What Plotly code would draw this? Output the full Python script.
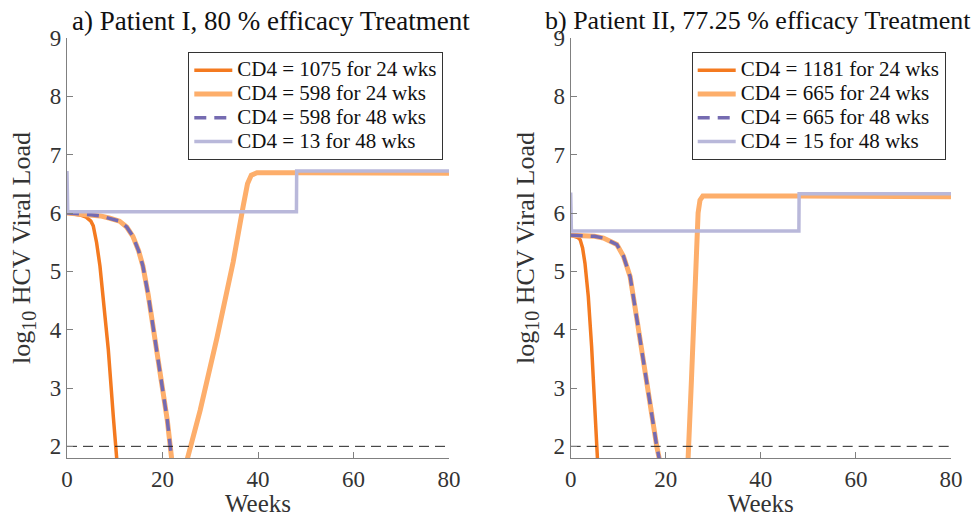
import plotly.graph_objects as go

# ---------------- data ----------------
# Patient I
p1_dark_t = [0, 1, 2, 3, 4, 5, 5.5, 6.2, 6.9, 7.6, 8.65, 9.7, 10.4, 10.6]
p1_dark_v = [6.0, 5.99, 5.98, 5.96, 5.93, 5.86, 5.78, 5.49, 5.09, 4.52, 3.66, 2.51, 1.8, 1.6]

p1_light_t = [0, 2, 5, 7, 9, 11, 12.5, 13.8, 15, 15.9, 17, 18, 19, 20.1, 21, 21.9, 22.1,
              None, 24.6, 25.3, 27.9, 31.4, 34.8, 36.9, 37.8, 38.6, 39.8, 48, 80]
p1_light_v = [6.0, 5.99, 5.97, 5.95, 5.91, 5.86, 5.76, 5.6, 5.35, 5.09, 4.6, 4.05, 3.52, 2.97, 2.45, 1.8, 1.6,
              None, 1.6, 1.8, 2.62, 3.86, 5.16, 6.12, 6.5, 6.65, 6.69, 6.69, 6.68]

p1_dash_t = [0, 2, 5, 7, 9, 11, 12.5, 13.8, 15, 15.9, 17, 18, 19, 20.1, 21, 21.9, 22.1]
p1_dash_v = [6.0, 5.99, 5.97, 5.95, 5.91, 5.86, 5.76, 5.6, 5.35, 5.09, 4.6, 4.05, 3.52, 2.97, 2.45, 1.8, 1.6]

p1_lav_t = [0, 0.15, 48.05, 48.1, 80]
p1_lav_v = [6.72, 6.02, 6.02, 6.72, 6.72]

# Patient II
p2_dark_t = [0, 1, 1.5, 2, 2.5, 3, 3.7, 4.4, 5.1, 5.6, 5.75]
p2_dark_v = [5.62, 5.6, 5.58, 5.54, 5.4, 5.14, 4.57, 3.71, 2.57, 1.82, 1.6]

p2_light_t = [0, 3, 5, 6.9, 9.7, 11.1, 12.5, 13.5, 15.3, 17.0, 18.1, 18.6, 18.8,
              None, 24.65, 24.7, 25.4, 26.1, 26.8, 27.2, 27.8, 48, 80]
p2_light_v = [5.62, 5.61, 5.6, 5.57, 5.46, 5.26, 4.91, 4.4, 3.43, 2.57, 2.0, 1.8, 1.6,
              None, 1.6, 1.8, 3.14, 4.86, 6.0, 6.22, 6.29, 6.29, 6.28]

p2_dash_t = [0, 3, 5, 6.9, 9.7, 11.1, 12.5, 13.5, 15.3, 17.0, 18.1, 18.6, 18.8]
p2_dash_v = [5.62, 5.61, 5.6, 5.57, 5.46, 5.26, 4.91, 4.4, 3.43, 2.57, 2.0, 1.8, 1.6]

p2_lav_t = [0, 0.15, 48.0, 48.05, 80]
p2_lav_v = [6.35, 5.69, 5.69, 6.33, 6.33]

threshold_t = [0, 80]
threshold_v = [2, 2]

p1_names = ["CD4 = 1075 for 24 wks", "CD4 = 598 for 24 wks", "CD4 = 598 for 48 wks", "CD4 = 13 for 48 wks"]
p2_names = ["CD4 = 1181 for 24 wks", "CD4 = 665 for 24 wks", "CD4 = 665 for 48 wks", "CD4 = 15 for 48 wks"]
titles = ["a) Patient I, 80 % efficacy Treatment", "b) Patient II, 77.25 % efficacy Treatment"]
x_ticks = [0, 20, 40, 60, 80]
y_ticks = [2, 3, 4, 5, 6, 7, 8, 9]

# ---------------- styling ----------------
C_DARK = "#f47a20"
C_LIGHT = "#fdae6b"
C_PURPLE = "#756bb1"
C_LAV = "#b9b8da"
FONT = "Liberation Serif"
LEG_TXT = 21

fig = go.Figure()

def add_panel(xa, ya, leg, data, names):
    styles = [
        dict(color=C_DARK, width=3.5),
        dict(color=C_LIGHT, width=5),
        dict(color=C_PURPLE, width=3.5, dash="12px,8px"),
        dict(color=C_LAV, width=3.5),
    ]
    for (t, v), name, st in zip(data, names, styles):
        fig.add_trace(go.Scatter(x=t, y=v, mode="lines",
                                 name=f"<span style='font-size:{LEG_TXT}px'>{name}</span>",
                                 line=st, xaxis=xa, yaxis=ya, legend=leg))
    fig.add_trace(go.Scatter(x=threshold_t, y=threshold_v, mode="lines", showlegend=False,
                             line=dict(color="#222222", width=1, dash="10px,6px"),
                             xaxis=xa, yaxis=ya))

add_panel("x", "y", "legend",
          [(p1_dark_t, p1_dark_v), (p1_light_t, p1_light_v), (p1_dash_t, p1_dash_v), (p1_lav_t, p1_lav_v)],
          p1_names)
add_panel("x2", "y2", "legend2",
          [(p2_dark_t, p2_dark_v), (p2_light_t, p2_light_v), (p2_dash_t, p2_dash_v), (p2_lav_t, p2_lav_v)],
          p2_names)

axis_common = dict(showline=True, linecolor="#808080", linewidth=1.3, mirror=False,
                   ticks="inside", ticklen=6, tickcolor="#808080", tickwidth=1.3,
                   showgrid=False, zeroline=False, automargin=False,
                   tickfont=dict(family=FONT, size=23, color="#333333"))

L, R, T, B = 67, 22, 38, 59
W, H = 973, 517
pw = W - L - R
ph = H - T - B
d1 = [0, (449 - L) / pw]
d2 = [(570.7 - L) / pw, 1]

xt = dict(text="Weeks", font=dict(family=FONT, size=25, color="#333333"), standoff=8)
yt = dict(text="log<sub><span style='font-size:20px'>10</span></sub> HCV Viral Load",
          font=dict(family=FONT, size=26, color="#333333"), standoff=11)

leg_common = dict(xanchor="left", yanchor="top", y=(458 - 52.3) / ph,
                  bgcolor="white", bordercolor="#333333", borderwidth=1, itemwidth=38,
                  font=dict(family=FONT, size=16, color="#111111"), tracegroupgap=0)

fig.update_layout(
    width=W, height=H,
    margin=dict(l=L, r=R, t=T, b=B),
    paper_bgcolor="white", plot_bgcolor="white",
    font=dict(family=FONT, color="#111111"),
    xaxis=dict(domain=d1, range=[0, 80], tickvals=x_ticks, title=xt, anchor="y", **axis_common),
    yaxis=dict(domain=[0, 1], range=[1.8, 9], tickvals=y_ticks, title=yt, anchor="x", **axis_common),
    xaxis2=dict(domain=d2, range=[0, 80], tickvals=x_ticks, title=xt, anchor="y2", **axis_common),
    yaxis2=dict(domain=[0, 1], range=[1.8, 9], tickvals=y_ticks, title=yt, anchor="x2", **axis_common),
    legend=dict(x=(188.3 - L) / pw, **leg_common),
    legend2=dict(x=(691.7 - L) / pw, **leg_common),
    annotations=[
        dict(text=titles[0], x=(271 - L) / pw, y=(458 - 21) / ph, xref="paper", yref="paper",
             xanchor="center", yanchor="middle", showarrow=False,
             font=dict(family=FONT, size=27, color="#111111")),
        dict(text=titles[1], x=(758 - L) / pw, y=(458 - 21) / ph, xref="paper", yref="paper",
             xanchor="center", yanchor="middle", showarrow=False,
             font=dict(family=FONT, size=26, color="#111111")),
    ],
)

fig.write_html("out.html", config={"displayModeBar": False},
               post_script="document.body.style.margin='0';document.body.style.overflow='hidden';")
